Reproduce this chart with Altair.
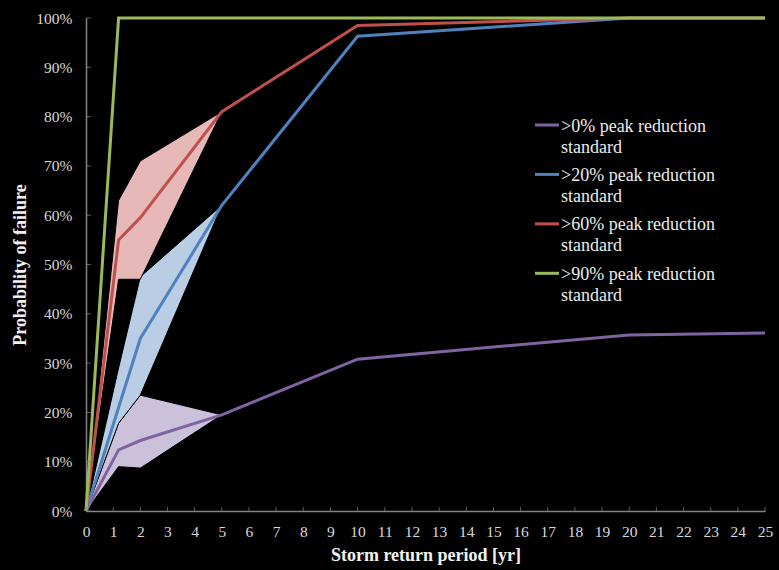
import altair as alt
import pandas as pd

# Peak-reduction standards and their colours
series = [
    ">0% peak reduction standard",
    ">20% peak reduction standard",
    ">60% peak reduction standard",
    ">90% peak reduction standard",
]
line_colors = ["#8064a2", "#4f81bd", "#c0504d", "#9bbb59"]
band_colors = ["#ccc1da", "#b9cde5", "#e6b9b8"]

# Mean probability of failure [%] per storm return period [yr]
return_period = [0, 1.2, 2, 5, 10, 20, 25]
p_fail = [
    [0, 12.4, 14.3, 19.5, 30.8, 35.7, 36.1],
    [0, 21.0, 35.0, 62.0, 96.3, 100, 100],
    [0, 55.0, 59.5, 81.0, 98.5, 100, 100],
    [0, 100, 100, 100, 100, 100, 100],
]

# Uncertainty ranges [%] for the short return periods
band_period = [0, 1.2, 2, 5]
band_low = [
    [0, 9.0, 8.7, 19.5],
    [0, 17.8, 23.5, 62.0],
    [0, 47.0, 47.0, 81.0],
]
band_high = [
    [0, 17.8, 23.5, 19.5],
    [0, 29.0, 47.5, 62.0],
    [0, 63.0, 71.0, 81.0],
]

x_ticks = list(range(0, 26))
y_ticks = list(range(0, 101, 10))

W, H = 679, 493
SERIF = "Liberation Serif"
AXIS_GREY = "#858585"

color_scale = alt.Scale(domain=series, range=line_colors)
x_scale = alt.Scale(domain=[0, 25], nice=False)
y_scale = alt.Scale(domain=[0, 100], nice=False)

x_axis = alt.Axis(
    values=x_ticks, title="Storm return period [yr]", grid=False,
    ticks=False, tickSize=0, domainColor=AXIS_GREY, domainWidth=1.5,
    labelFont=SERIF, labelFontSize=15.5, labelColor="#d9d9d9",
    labelPadding=13, labelAngle=0, labelFlush=False, labelOverlap=False,
    titleFont=SERIF, titleFontSize=18, titleFontWeight="bold", titleColor="#f2f2f2",
    titleX=W / 2, titleY=49, titleAlign="center", titleBaseline="alphabetic",
)
y_axis = alt.Axis(
    values=y_ticks, labelExpr="datum.value + '%'", title="Probability of failure",
    grid=False, ticks=False, tickSize=0, domainColor=AXIS_GREY, domainWidth=1.5,
    labelFont=SERIF, labelFontSize=15.5, labelColor="#d9d9d9", labelPadding=14,
    labelFlush=False, labelOverlap=False,
    titleFont=SERIF, titleFontSize=18, titleFontWeight="bold", titleColor="#f2f2f2",
    titleX=-66, titleY=H / 2, titleAngle=270, titleAlign="center", titleBaseline="middle",
)

X = alt.X("period:Q", scale=x_scale, axis=x_axis)


def Y(field):
    return alt.Y(f"{field}:Q", scale=y_scale, axis=y_axis)


layers = []

# shaded uncertainty bands
for name, fill, lo, hi in zip(series, band_colors, band_low, band_high):
    df = pd.DataFrame({"period": band_period, "lo": lo, "hi": hi})
    layers.append(
        alt.Chart(df).mark_area(color=fill, opacity=1, stroke="black", strokeWidth=1)
        .encode(x=X, y=Y("lo"), y2="hi:Q")
    )

# mean curves, green last so it sits on top
for name, vals in zip(series, p_fail):
    df = pd.DataFrame({"period": return_period, "p": vals, "series": name})
    layers.append(
        alt.Chart(df).mark_line(strokeWidth=3)
        .encode(x=X, y=Y("p"), color=alt.Color("series:N", scale=color_scale, legend=None))
    )

# inward tick marks on both axes
layers.append(
    alt.Chart(pd.DataFrame({"period": x_ticks}))
    .mark_tick(color=AXIS_GREY, thickness=1, size=4, orient="vertical")
    .encode(x=X, y=alt.value(H - 2))
)
layers.append(
    alt.Chart(pd.DataFrame({"p": y_ticks}))
    .mark_tick(color=AXIS_GREY, thickness=1, size=5, orient="horizontal")
    .encode(y=Y("p"), x=alt.value(2.5))
)

main = alt.layer(*layers)

# two-line legend entries
legend_df = pd.DataFrame({
    "series": series,
    "row": list(range(len(series))),
    "first": [s.rsplit(" ", 1)[0] for s in series],
    "second": [s.rsplit(" ", 1)[1] for s in series],
})
row_y = alt.Y("row:Q", scale=alt.Scale(domain=[0, 3], range=[107, 255.3]), axis=None)
legend_base = alt.Chart(legend_df)
legend_rules = legend_base.mark_rule(strokeWidth=3).encode(
    x=alt.value(449), x2=alt.value(473), y=row_y,
    color=alt.Color("series:N", scale=color_scale, legend=None),
)
legend_text1 = legend_base.mark_text(
    align="left", baseline="alphabetic", dy=6.5, font=SERIF, fontSize=18, color="#ececec"
).encode(x=alt.value(475), y=row_y, text="first:N")
legend_text2 = legend_base.mark_text(
    align="left", baseline="alphabetic", dy=27.5, font=SERIF, fontSize=18, color="#ececec"
).encode(x=alt.value(475), y=row_y, text="second:N")
legend = alt.layer(legend_rules, legend_text1, legend_text2)

chart = (
    alt.layer(main, legend)
    .resolve_scale(y="independent")
    .properties(
        width=W, height=H,
        autosize=alt.AutoSizeParams(type="none"),
        padding={"left": 86, "top": 18, "right": 14, "bottom": 59},
        background="black",
    )
    .configure_view(stroke=None)
)

chart.save("out.html", embed_options={"renderer": "svg", "actions": False})
